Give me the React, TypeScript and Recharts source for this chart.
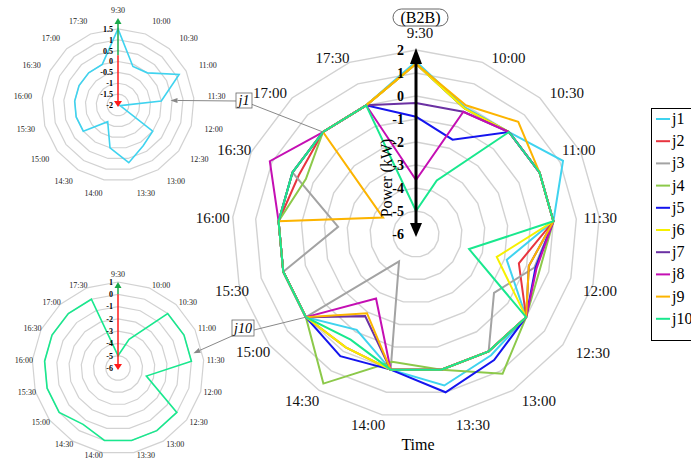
import React from "react";
import { RadarChart, Radar, PolarGrid, PolarAngleAxis, PolarRadiusAxis } from "recharts";

const times = ["9:30", "10:00", "10:30", "11:00", "11:30", "12:00", "12:30", "13:00", "13:30",
  "14:00", "14:30", "15:00", "15:30", "16:00", "16:30", "17:00", "17:30"];

const j1 = [1.5, -0.1, 0, 1.14, 0, -1.9, 0, 0.2, 0.7, 0, -1.1, 0, 0, 0, 0, 0, 0];
const j2 = [1.4, -0.15, 0, 0, 0, -1.35, 0, 0, 0, 0, -0.2, 0, 0, 0, -0.3, 0, 0];
const j3 = [1.4, -0.15, 0, 0, 0, -0.65, -1.75, 0, 0, 0, -4.6, 0, 0, -2.6, 0, 0, 0];
const j4 = [1.4, -0.15, 0, 0, 0, -0.4, 0, 1.15, 0, -0.35, 1.65, 0, 0, 0, -0.65, 0, 0];
const j5 = [-0.9, -1.6, 0, 0, 0, -0.6, 0, 0.45, 1.0, 0, 0.25, 0, 0, 0, 0, 0, 0];
const j6 = [1.4, -0.15, 0, 0, 0, -2.35, 0, 0, 0, 0, -0.2, 0, 0, 0, 0, 0, 0];
const j7 = [-0.3, -0.3, 0, 0, 0, -0.9, 0, 0, 0, 0, -1.8, 0, 0, 0, 0, 0, 0];
const j8 = [-3.65, -0.3, 0, 0, 0, -0.55, 0, 0, 0, 0, -2.7, 0, 0, 0, 1.1, 0, 0];
const j9 = [1.4, 0, 0.6, 0, 0, -0.9, 0, 0, 0, 0, -1.95, 0, 0, 0, -4.4, 0, 0];
const j10 = [-5, -3.5, 0, 0, 0, -3.6, 0, 0, 0, 0, -0.6, 0, 0, 0, 0, 0, 0];

const seriesNames = ["j1", "j2", "j3", "j4", "j5", "j6", "j7", "j8", "j9", "j10"];
const seriesValues = [j1, j2, j3, j4, j5, j6, j7, j8, j9, j10];
const seriesColors = ["#3fd3ef", "#e8343f", "#a3a3a3", "#8cc94a", "#1414ee", "#f6f000",
  "#6b31a3", "#c40fb3", "#fcb400", "#19e88e"];

const mainTicks = [-6, -5, -4, -3, -2, -1, 0, 1, 2];
const inset1Ticks = [-2, -1.5, -1, -0.5, 0, 0.5, 1, 1.5];
const inset2Ticks = [-6, -5, -4, -3, -2, -1, 0, 1];

const rows = times.map((t, i) => {
  const row: Record<string, any> = { time: t };
  seriesNames.forEach((n, k) => (row[n] = seriesValues[k][i]));
  return row;
});

const FONT = "'Liberation Serif', 'Times New Roman', serif";
const GRID = "#d2d2d2";

// main chart geometry
const CX = 416, CY = 234, R = 184;
// label nudges (from the outer vertex) for the main time labels
const mainLabelNudge = [[4, -17], [26, -5], [27, -5], [-2, -2], [1, 1], [7, 6], [30, 8], [26, 10], [23, 10],
  [-14, 10], [-17, 10], [-16, 7], [-7, 6], [-20, 1], [-17, -2], [-22, -5], [-17, -5]];
// insets
const I1 = { top: 0, h: 215, cx: 118, cy: 105, r: 87 };
const I2 = { top: 250, h: 209, cx: 118, cy: 118, r: 86 };

function polar(cx: number, cy: number, r: number, index: number) {
  const a = ((90 - (index * 360) / times.length) * Math.PI) / 180;
  return { x: cx + r * Math.cos(a), y: cy - r * Math.sin(a), dx: Math.cos(a), dy: -Math.sin(a) };
}

function mainTick(props: any) {
  const { index, payload } = props;
  const p = polar(CX, CY, R, index);
  const [nx, ny] = mainLabelNudge[index];
  return (
    <text x={p.x + nx} y={p.y + ny} dy="0.35em" textAnchor="middle" fontSize={15} style={{ fontFamily: FONT }} fill="#111">
      {payload.value}
    </text>
  );
}

function insetTick(cx: number, cy: number, r: number) {
  return (props: any) => {
    const { index, payload } = props;
    const p = polar(cx, cy, r, index);
    const nx = p.dx > 0.05 ? 12 : p.dx < -0.05 ? -8.5 : 0;
    const ny = index === 0 ? -8 : p.dy * 3.2;
    return (
      <text x={p.x + nx} y={p.y + ny} dy="0.35em" textAnchor="middle" fontSize={8} style={{ fontFamily: FONT }} fill="#222">
        {payload.value}
      </text>
    );
  };
}

function radiusTick(cx: number, size: number, gap: number) {
  return (props: any) => (
    <text x={cx - gap} y={props.y} dy="0.36em" textAnchor="end" fontSize={size} fontWeight="bold" style={{ fontFamily: FONT }} fill="#000">
      {props.payload.value}
    </text>
  );
}

function VArrow({ x, from, to, color, w, head, hw }: any) {
  const dir = to > from ? 1 : -1;
  const base = to - dir * head;
  return (
    <g>
      <line x1={x} y1={from} x2={x} y2={base} stroke={color} strokeWidth={w} />
      <polygon points={`${x},${to} ${x - hw},${base} ${x + hw},${base}`} fill={color} />
    </g>
  );
}

function Connector({ pts, tip, color }: any) {
  const a = pts[pts.length - 1];
  const ang = Math.atan2(tip.y - a.y, tip.x - a.x);
  const L = 7, hw = 2.5;
  const bx = tip.x - L * Math.cos(ang), by = tip.y - L * Math.sin(ang);
  const nx = -Math.sin(ang) * hw, ny = Math.cos(ang) * hw;
  return (
    <g>
      <polyline points={[...pts, { x: bx, y: by }].map((p: any) => `${p.x},${p.y}`).join(" ")} fill="none" stroke={color} strokeWidth={1} />
      <polygon points={`${tip.x},${tip.y} ${bx + nx},${by + ny} ${bx - nx},${by - ny}`} fill={color} />
    </g>
  );
}

function Inset({ cfg, name, ticks }: any) {
  const k = seriesNames.indexOf(name);
  const color = seriesColors[k];
  return (
    <div style={{ position: "absolute", left: 0, top: cfg.top }}>
      <RadarChart width={236} height={cfg.h} data={rows} cx={cfg.cx} cy={cfg.cy} outerRadius={cfg.r}
        startAngle={90} endAngle={-270} margin={{ top: 0, right: 0, bottom: 0, left: 0 }}>
        <PolarGrid gridType="polygon" radialLines={false} stroke={GRID} strokeWidth={1.2} />
        <PolarAngleAxis dataKey="time" axisLine={false} tickLine={false} tick={insetTick(cfg.cx, cfg.cy, cfg.r)} />
        <PolarRadiusAxis angle={90} domain={[ticks[0], ticks[ticks.length - 1]]} ticks={ticks} tickCount={ticks.length}
          axisLine={false} tickLine={false} tick={radiusTick(cfg.cx, 8, 5)} />
        <Radar dataKey={name} stroke={color} strokeWidth={1.6} fill="none" fillOpacity={0} isAnimationActive={false}
          dot={{ r: 1.5, fill: color, stroke: color, strokeWidth: 0 }} />
      </RadarChart>
    </div>
  );
}

export default function App() {
  const unit = R / (mainTicks[mainTicks.length - 1] - mainTicks[0]);
  const mainAt = (v: number, i: number) => polar(CX, CY, (v - mainTicks[0]) * unit, i);
  const in1Unit = I1.r / (inset1Ticks[inset1Ticks.length - 1] - inset1Ticks[0]);
  const in2Unit = I2.r / (inset2Ticks[inset2Ticks.length - 1] - inset2Ticks[0]);
  const in1Zero = I1.cy - (0 - inset1Ticks[0]) * in1Unit;
  const in2Zero = I2.top + I2.cy - (0 - inset2Ticks[0]) * in2Unit;
  const in1Target = polar(I1.cx, I1.cy, (j1[4] - inset1Ticks[0]) * in1Unit, 4);
  const in2Target = polar(I2.cx, I2.top + I2.cy, (j10[4] - inset2Ticks[0]) * in2Unit, 4);
  const from1 = mainAt(0, 15);
  const from2 = mainAt(0, 11);

  return (
    <div style={{ position: "absolute", left: 0, top: 0, width: 691, height: 459, background: "#fff", overflow: "hidden" }}>
      <div style={{ position: "absolute", left: 0, top: 0 }}>
        <RadarChart width={691} height={459} data={rows} cx={CX} cy={CY} outerRadius={R}
          startAngle={90} endAngle={-270} margin={{ top: 0, right: 0, bottom: 0, left: 0 }}>
          <PolarGrid gridType="polygon" radialLines={false} stroke={GRID} strokeWidth={1.4} />
          <PolarAngleAxis dataKey="time" axisLine={false} tickLine={false} tick={mainTick} />
          <PolarRadiusAxis angle={90} domain={[mainTicks[0], mainTicks[mainTicks.length - 1]]} ticks={mainTicks}
            tickCount={mainTicks.length} axisLine={false} tickLine={false} tick={radiusTick(CX, 14, 12)} />
          {seriesNames.map((n, k) => (
            <Radar key={n} dataKey={n} stroke={seriesColors[k]} strokeWidth={2} fill="none" fillOpacity={0}
              dot={false} isAnimationActive={false} />
          ))}
        </RadarChart>
      </div>
      <Inset cfg={I1} name="j1" ticks={inset1Ticks} />
      <Inset cfg={I2} name="j10" ticks={inset2Ticks} />

      <svg width={691} height={459} style={{ position: "absolute", left: 0, top: 0, pointerEvents: "none" }}>
        {/* main double arrow */}
        <line x1={CX} y1={CY - 10} x2={CX} y2={CY - R + 13} stroke="#000" strokeWidth={3} />
        <polygon points={`${CX},${CY - R - 2} ${CX - 6},${CY - R + 14} ${CX + 6},${CY - R + 14}`} fill="#000" />
        <polygon points={`${CX},${CY + 3} ${CX - 6},${CY - 11} ${CX + 6},${CY - 11}`} fill="#000" />
        <text transform={`translate(386,178) rotate(-90)`} textAnchor="middle" dy="0.35em" fontSize={16} style={{ fontFamily: FONT }}>
          Power (kW)
        </text>

        {/* title + x label */}
        <rect x={393} y={9} width={55} height={17} rx={8.5} fill="#fff" stroke="#666" strokeWidth={1} />
        <text x={420.5} y={22.5} textAnchor="middle" fontSize={16} style={{ fontFamily: FONT }}>(B2B)</text>
        <text x={418} y={450} textAnchor="middle" fontSize={16} style={{ fontFamily: FONT }}>Time</text>

        {/* inset arrows */}
        <VArrow x={I1.cx} from={in1Zero} to={I1.cy - I1.r} color="#1aa84a" w={1.5} head={6} hw={3.5} />
        <VArrow x={I1.cx} from={in1Zero} to={I1.cy + 2} color="#ff1a1a" w={1.5} head={6} hw={4} />
        <VArrow x={I2.cx} from={in2Zero} to={I2.top + I2.cy - I2.r} color="#1aa84a" w={1.5} head={6} hw={3.5} />
        <VArrow x={I2.cx} from={in2Zero} to={I2.top + I2.cy + 2} color="#ff1a1a" w={1.5} head={6} hw={4} />

        {/* connectors */}
        <Connector pts={[from1, { x: 251, y: 104 }, { x: 237, y: 101 }]} tip={{ x: in1Target.x + 3, y: in1Target.y }} color="#888" />
        <rect x={236} y={93} width={16} height={15} fill="#fff" stroke="#666" strokeWidth={0.8} />
        <text x={244} y={105} textAnchor="middle" fontSize={14} fontStyle="italic" style={{ fontFamily: FONT }}>j1</text>
        <Connector pts={[from2, { x: 254, y: 330 }, { x: 232, y: 336 }]} tip={{ x: in2Target.x + 2, y: in2Target.y - 8 }} color="#888" />
        <rect x={232} y={320} width={22} height={16} fill="#fff" stroke="#666" strokeWidth={0.8} />
        <text x={243} y={333} textAnchor="middle" fontSize={14} fontStyle="italic" style={{ fontFamily: FONT }}>j10</text>

        {/* legend */}
        <rect x={651.5} y={108.5} width={60} height={232} fill="#fff" stroke="#000" strokeWidth={1} />
        {seriesNames.map((n, k) => {
          const y = 119 + k * 22.2;
          return (
            <g key={n}>
              <line x1={656} y1={y} x2={670} y2={y} stroke={seriesColors[k]} strokeWidth={2} />
              <text x={672} y={y + 5} fontSize={16} style={{ fontFamily: FONT }}>{n}</text>
            </g>
          );
        })}
      </svg>
    </div>
  );
}
